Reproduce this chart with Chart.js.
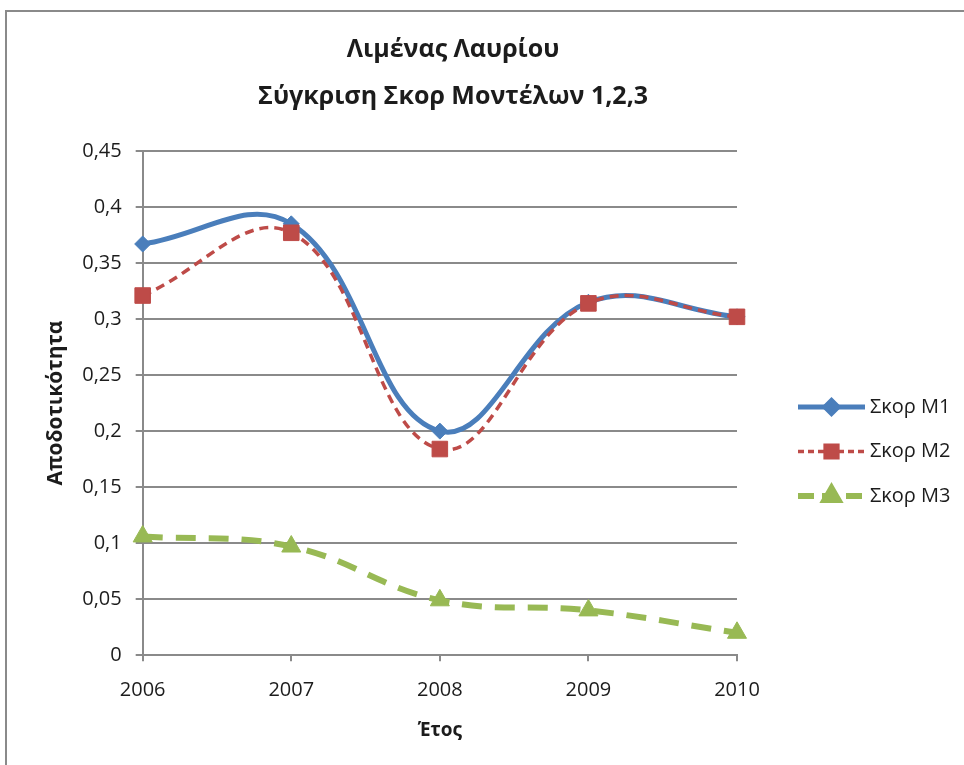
<!DOCTYPE html>
<html><head><meta charset="utf-8">
<script src="https://cdn.jsdelivr.net/npm/chart.js@4/dist/chart.umd.min.js"></script>
<style>
html,body{margin:0;padding:0;background:#fff;overflow:hidden}
#frame{position:absolute;left:5px;top:10px;width:1000px;height:800px;border:2px solid #8a8a8a;box-sizing:border-box}
#wrap{position:absolute;left:0;top:0;width:964px;height:765px}
</style></head><body>
<div id="frame"></div>
<div id="wrap"><canvas id="c" width="964" height="765"></canvas></div>
<script>
const years = ['2006', '2007', '2008', '2009', '2010'];
const scoreM1 = [0.367, 0.385, 0.200, 0.315, 0.302];
const scoreM2 = [0.321, 0.377, 0.184, 0.314, 0.302];
const scoreM3 = [0.106, 0.097, 0.049, 0.040, 0.020];
const seriesNames = ['Σκορ M1', 'Σκορ M2', 'Σκορ M3'];
const titleLines = ['Λιμένας Λαυρίου', 'Σύγκριση Σκορ Μοντέλων 1,2,3'];
const yAxisTitle = 'Αποδοτικότητα';
const xAxisTitle = 'Έτος';

const FONT = '"Open Sans", "Noto Sans", sans-serif';
const TEXT = '#1c1c1c';
const GRID = '#8a8a8a';

const titlePlugin = {
  id: 'twoLineTitle',
  afterDraw(chart) {
    const ctx = chart.ctx;
    ctx.save();
    ctx.fillStyle = TEXT;
    ctx.font = 'bold 25px ' + FONT;
    ctx.textAlign = 'center';
    ctx.textBaseline = 'middle';
    const cx = chart.width * 0.47;
    ctx.fillText(titleLines[0], cx, 50);
    ctx.fillText(titleLines[1], cx, 97);
    ctx.restore();
  }
};

const sideLegend = {
  id: 'sideLegend',
  afterDraw(chart) {
    const ctx = chart.ctx;
    const a = chart.chartArea;
    const x0 = a.right + 61, len = 67;
    const legendDash = [[], [6, 4], [16, 8]];
    const legendRadius = [6.5, 9, 8];
    chart.data.datasets.forEach((ds, i) => {
      const y = a.top + 256 + i * 44.5;
      ctx.save();
      ctx.strokeStyle = ds.borderColor;
      ctx.lineWidth = ds.borderWidth;
      ctx.setLineDash(legendDash[i]);
      ctx.beginPath();
      ctx.moveTo(x0, y);
      ctx.lineTo(x0 + len, y);
      ctx.stroke();
      ctx.setLineDash([]);
      ctx.fillStyle = ds.pointBackgroundColor;
      ctx.strokeStyle = ds.pointBorderColor;
      Chart.helpers.drawPoint(ctx, {pointStyle: ds.pointStyle, radius: legendRadius[i], rotation: 0, borderWidth: 1}, x0 + len / 2, y);
      ctx.fillStyle = TEXT;
      ctx.font = '20px ' + FONT;
      ctx.textBaseline = 'middle';
      ctx.textAlign = 'left';
      ctx.fillText(ds.label, x0 + len + 5, y);
      ctx.restore();
    });
  }
};

new Chart(document.getElementById('c'), {
  type: 'line',
  data: {
    labels: years,
    datasets: [
      {
        label: seriesNames[0], data: scoreM1, order: 1,
        borderColor: '#4A7EBB', borderWidth: 5, tension: 0.4,
        pointStyle: 'rectRot', pointRadius: 8,
        pointBackgroundColor: '#4A7EBB', pointBorderColor: '#4A7EBB', pointBorderWidth: 1
      },
      {
        label: seriesNames[1], data: scoreM2, order: 0,
        borderColor: '#BE4B48', borderWidth: 3.5, borderDash: [9, 6], tension: 0.4,
        pointStyle: 'rect', pointRadius: 11,
        pointBackgroundColor: '#BE4B48', pointBorderColor: '#BE4B48', pointBorderWidth: 1
      },
      {
        label: seriesNames[2], data: scoreM3, order: 2,
        borderColor: '#98B954', borderWidth: 6, borderDash: [20, 13], tension: 0.4,
        pointStyle: 'triangle', pointRadius: 11,
        pointBackgroundColor: '#98B954', pointBorderColor: '#98B954', pointBorderWidth: 1
      }
    ]
  },
  options: {
    responsive: false,
    animation: false,
    devicePixelRatio: 1,
    layout: {padding: {top: 151, left: 19, right: 227, bottom: 19}},
    plugins: {legend: {display: false}, title: {display: false}, tooltip: {enabled: false}},
    scales: {
      x: {
        offset: false,
        grid: {display: true, drawOnChartArea: false, drawTicks: true, tickLength: 6, color: GRID, lineWidth: 2},
        border: {display: true, color: GRID, width: 2},
        ticks: {color: TEXT, font: {family: FONT, size: 20}, padding: 17, maxRotation: 0},
        title: {display: true, text: xAxisTitle, color: TEXT, font: {family: FONT, size: 19, weight: 'bold'}, padding: {top: 0}}
      },
      y: {
        min: 0, max: 0.45,
        grid: {color: GRID, lineWidth: 2, drawTicks: true, tickLength: 7},
        border: {display: true, color: GRID, width: 2},
        ticks: {
          stepSize: 0.05, color: TEXT, font: {family: FONT, size: 20}, padding: 14,
          callback: v => String(Number(v.toFixed(2))).replace('.', ',')
        },
        title: {display: true, text: yAxisTitle, color: TEXT, font: {family: FONT, size: 21, weight: 'bold'}, padding: {top: 24, bottom: 0}}
      }
    }
  },
  plugins: [titlePlugin, sideLegend]
});
</script>
</body></html>
